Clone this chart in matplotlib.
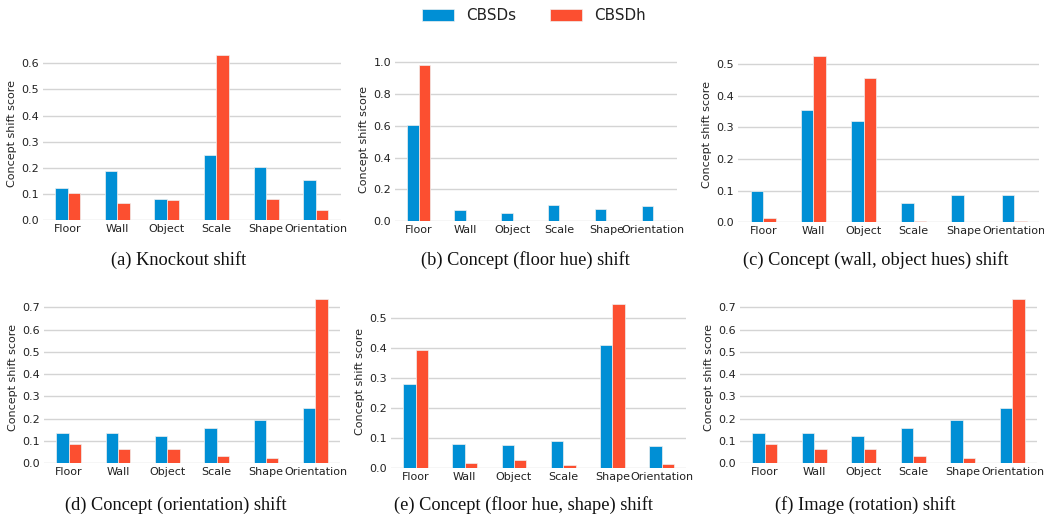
import matplotlib
matplotlib.use("Agg")
import matplotlib.pyplot as plt
import numpy as np

categories = ["Floor", "Wall", "Object", "Scale", "Shape", "Orientation"]
series_names = ["CBSDs", "CBSDh"]

knockout_s = [0.123, 0.190, 0.080, 0.251, 0.205, 0.153]
knockout_h = [0.105, 0.068, 0.077, 0.630, 0.083, 0.040]

floor_hue_s = [0.605, 0.073, 0.055, 0.102, 0.077, 0.098]
floor_hue_h = [0.983, 0.005, 0.005, 0.0, 0.0, 0.0]

wall_obj_s = [0.100, 0.354, 0.319, 0.060, 0.087, 0.085]
wall_obj_h = [0.014, 0.526, 0.455, 0.003, 0.0, 0.003]

orient_s = [0.138, 0.138, 0.121, 0.157, 0.196, 0.249]
orient_h = [0.086, 0.064, 0.064, 0.033, 0.025, 0.735]

floor_shape_s = [0.280, 0.079, 0.075, 0.088, 0.412, 0.073]
floor_shape_h = [0.393, 0.017, 0.027, 0.008, 0.547, 0.014]

rotation_s = [0.138, 0.138, 0.121, 0.157, 0.196, 0.249]
rotation_h = [0.086, 0.064, 0.064, 0.033, 0.025, 0.735]

captions = ["(a) Knockout shift", "(b) Concept (floor hue) shift",
            "(c) Concept (wall, object hues) shift", "(d) Concept (orientation) shift",
            "(e) Concept (floor hue, shape) shift", "(f) Image (rotation) shift"]

panels = [(knockout_s, knockout_h), (floor_hue_s, floor_hue_h), (wall_obj_s, wall_obj_h),
          (orient_s, orient_h), (floor_shape_s, floor_shape_h), (rotation_s, rotation_h)]

# layout in pixels: left, right, bottom(y of 0), top
W, H = 1044, 516
boxes = [(42.7, 340.6, 220.3, 47.2), (395.2, 676.8, 221.3, 56.9), (738.1, 1039.3, 222.3, 47.5),
         (43.8, 340.2, 463.3, 291.2), (390.9, 686.3, 467.7, 296.1), (739.7, 1037.3, 463.3, 291.2)]
steps = [0.1, 0.2, 0.1, 0.1, 0.1, 0.1]
cap_pos = [(179, 260), (525, 260), (876, 260), (176, 505), (524, 505), (865, 505)]

colors = ["#008fd5", "#fc4f30"]

fig = plt.figure(figsize=(W / 100, H / 100), dpi=100)
fig.patch.set_facecolor("white")

x = np.arange(len(categories))
w = 0.25
handles = None
for i, ((s, h), (l, r, b, t)) in enumerate(zip(panels, boxes)):
    ax = fig.add_axes([l / W, 1 - b / H, (r - l) / W, (b - t) / H])
    b1 = ax.bar(x - w / 2, s, w, color=colors[0], edgecolor="#f0f0f0", linewidth=0.5, label=series_names[0], zorder=3)
    b2 = ax.bar(x + w / 2, h, w, color=colors[1], edgecolor="#f0f0f0", linewidth=0.5, label=series_names[1], zorder=3)
    handles = [b1, b2]
    ax.set_xlim(-0.5, 5.5)
    top = max(max(s), max(h)) * 1.05
    ax.set_ylim(0, top)
    ax.set_yticks(np.arange(0, top + 1e-9, steps[i]))
    ax.yaxis.set_major_formatter(matplotlib.ticker.FormatStrFormatter("%.1f"))
    ax.set_xticks(x)
    ax.set_xticklabels(categories)
    ax.grid(axis="y", color="#d4d4d4", linewidth=1.0, zorder=0)
    ax.set_axisbelow(True)
    for sp in ax.spines.values():
        sp.set_visible(False)
    ax.tick_params(length=0, labelsize=8.0, colors="#222222", pad=3)
    ax.set_ylabel("Concept shift score", fontsize=8.0, color="#222222", labelpad=3)
    cx, cy = cap_pos[i]
    fig.text(cx / W, 1 - cy / H, captions[i], ha="center", va="center",
             fontsize=13.2, family="Liberation Serif", color="#111111")

fig.legend(handles, series_names, loc="center", bbox_to_anchor=(534 / W, 1 - 16 / H),
           ncol=2, frameon=False, fontsize=10.9, handlelength=2.1, handleheight=0.8,
           columnspacing=2.2, handletextpad=0.85, labelcolor="#222222")

fig.savefig("out.png", dpi=100, facecolor="white")
